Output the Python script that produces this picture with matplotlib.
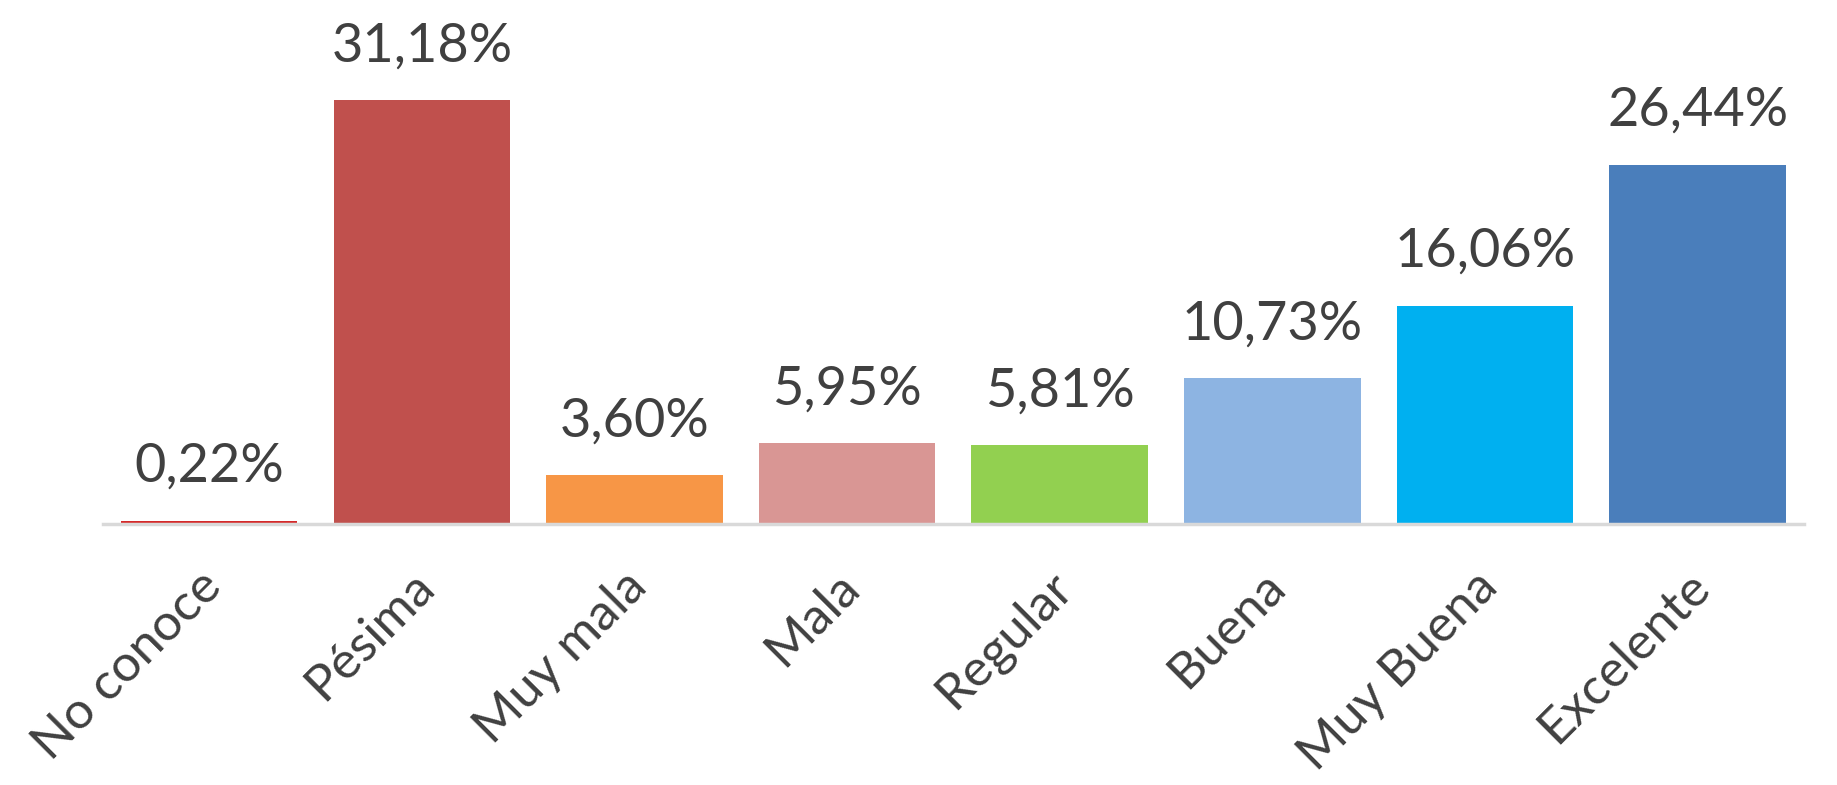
import matplotlib
matplotlib.use('Agg')
import matplotlib.pyplot as plt
import matplotlib.transforms as mtransforms
import numpy as np

categories = ['No conoce', 'Pésima', 'Muy mala', 'Mala', 'Regular', 'Buena', 'Muy Buena', 'Excelente']
values = [0.22, 31.18, 3.60, 5.95, 5.81, 10.73, 16.06, 26.44]
colors = ['#D42A2A', '#C0504D', '#F79646', '#D99694', '#92D050', '#8DB4E2', '#00B0F0', '#4A7EBB']

TEXT_COLOR = '#404040'

plt.rcParams['font.family'] = ['Lato', 'DejaVu Sans']

fig = plt.figure(figsize=(18.37, 7.85), dpi=100)
ax = fig.add_axes([0.056, 0.3325, 0.926, 0.6675])

x = np.arange(len(categories))
bars = ax.bar(x, values, width=0.83, color=colors)

for bar, v in zip(bars, values):
    label = f'{v:.2f}%'.replace('.', ',')
    ax.annotate(label, (bar.get_x() + bar.get_width() / 2, bar.get_height()),
                xytext=(0, 28), textcoords='offset points',
                ha='center', va='baseline', fontsize=39, color=TEXT_COLOR)

ax.set_xlim(-0.5, len(categories) - 0.5)
ax.set_ylim(0, 38.56)

ax.set_xticks(x)
ax.set_xticklabels(categories, rotation=45, ha='right', rotation_mode='anchor',
                   fontsize=37, color=TEXT_COLOR)
ax.tick_params(axis='x', length=0, pad=28)
# nudge rotated labels a little to the left, like the original
shift = mtransforms.ScaledTranslation(-8 / 72, 0, fig.dpi_scale_trans)
for lbl in ax.get_xticklabels():
    lbl.set_transform(lbl.get_transform() + shift)
ax.set_yticks([])

for side in ['top', 'right', 'left']:
    ax.spines[side].set_visible(False)
ax.spines['bottom'].set_color('#D9D9D9')
ax.spines['bottom'].set_linewidth(2.5)

fig.savefig('out.png', dpi=100)
